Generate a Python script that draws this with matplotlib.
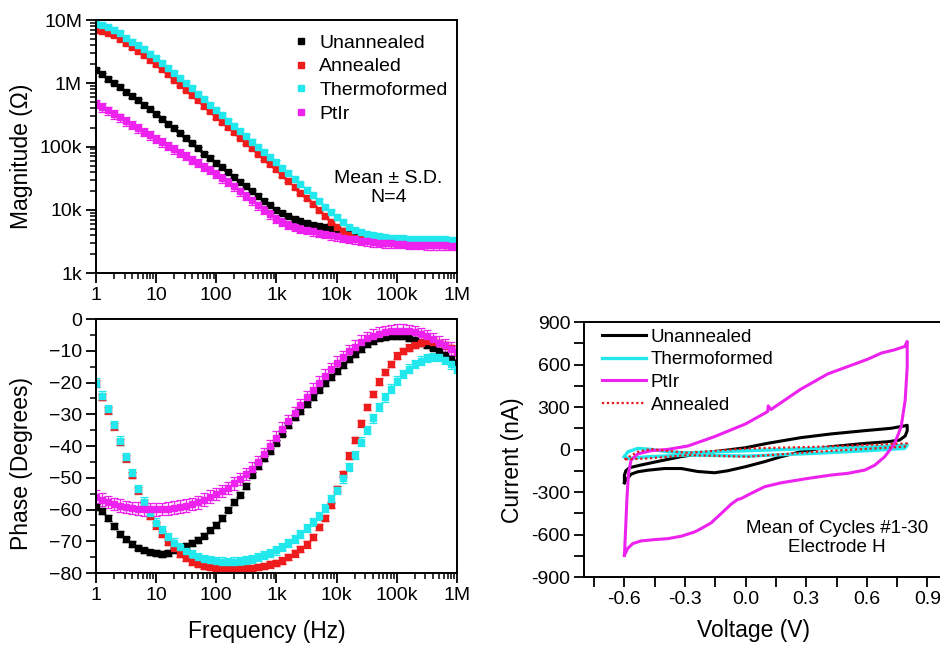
import matplotlib

matplotlib.use("Agg")

import matplotlib.pyplot as plt
from matplotlib.lines import Line2D
from matplotlib.ticker import FixedLocator, LogLocator, MultipleLocator, NullFormatter


# impedance spectra, 10 points per decade
freq_hz = [1, 1.26, 1.58, 2.0, 2.51, 3.16, 3.98, 5.01, 6.31, 7.94,
           10, 12.6, 15.8, 20.0, 25.1, 31.6, 39.8, 50.1, 63.1, 79.4,
           100, 126, 158, 200, 251, 316, 398, 501, 631, 794,
           1000, 1260, 1580, 2000, 2510, 3160, 3980, 5010, 6310, 7940,
           10000, 12600, 15800, 20000, 25100, 31600, 39800, 50100, 63100, 79400,
           100000, 126000, 158000, 200000, 251000, 316000, 398000, 501000, 631000, 794000,
           1000000]

# |Z| in kOhm
mag_unannealed = [1622, 1380, 1175, 1023, 871, 741, 631, 537, 457, 389,
                  331, 275, 229, 195, 162, 135, 112, 93.3, 77.6, 66.1,
                  55.0, 46.8, 38.9, 33.1, 27.5, 23.4, 19.5, 16.6, 13.8, 11.7,
                  10.0, 8.91, 7.94, 7.24, 6.61, 6.17, 5.75, 5.50, 5.25, 5.01,
                  4.79, 4.57, 4.27, 4.07, 3.89, 3.72, 3.63, 3.47, 3.39, 3.31,
                  3.24, 3.24, 3.16, 3.16, 3.16, 3.09, 3.09, 3.09, 3.09, 3.02, 3.02]
mag_annealed = [7079, 6761, 6310, 5754, 5012, 4266, 3715, 3236, 2754, 2344,
                1995, 1660, 1380, 1148, 955, 794, 646, 537, 437, 363,
                295, 245, 204, 170, 138, 115, 95.5, 77.6, 64.6, 52.5,
                43.7, 35.5, 28.8, 22.9, 18.6, 15.1, 12.3, 9.77, 7.94, 6.46,
                5.37, 4.57, 3.98, 3.63, 3.47, 3.31, 3.24, 3.16, 3.09, 3.02,
                2.95, 2.95, 2.95, 2.88, 2.88, 2.88, 2.88, 2.88, 2.82, 2.82, 2.82]
mag_thermo = [8710, 8318, 7762, 7079, 6166, 5248, 4571, 3981, 3467, 2951,
              2512, 2089, 1738, 1445, 1202, 1000, 832, 676, 562, 457,
              380, 316, 257, 214, 174, 145, 120, 97.7, 81.3, 67.6,
              56.2, 45.7, 38.0, 30.9, 25.7, 20.9, 17.0, 13.8, 11.2, 9.12,
              7.59, 6.31, 5.37, 4.79, 4.47, 4.17, 3.98, 3.80, 3.72, 3.63,
              3.55, 3.55, 3.47, 3.47, 3.47, 3.39, 3.39, 3.39, 3.39, 3.31, 3.31]
mag_ptir = [479, 417, 372, 324, 288, 251, 219, 195, 170, 151,
            132, 117, 102, 91.2, 79.4, 70.8, 61.7, 55.0, 47.9, 42.7,
            37.2, 31.6, 27.5, 23.4, 19.5, 16.6, 14.1, 11.7, 10.0, 8.51,
            7.24, 6.46, 5.75, 5.37, 5.01, 4.79, 4.57, 4.37, 4.17, 3.98,
            3.80, 3.63, 3.47, 3.39, 3.24, 3.16, 3.09, 3.02, 2.95, 2.95,
            2.88, 2.88, 2.82, 2.82, 2.82, 2.75, 2.75, 2.75, 2.75, 2.69, 2.69]

# phase in degrees
ph_unannealed = [-59.3, -60.5, -62.6, -65.1, -67.6, -69.4, -70.8, -72.0, -72.9, -73.5,
                 -73.8, -73.9, -73.6, -72.9, -72.1, -71.4, -70.5, -69.5, -68.2, -66.6,
                 -64.8, -62.6, -60.0, -57.7, -55.3, -52.5, -49.0, -46.3, -43.9, -41.6,
                 -38.9, -36.1, -33.5, -31.0, -28.9, -26.9, -24.6, -22.2, -20.1, -18.2,
                 -16.4, -14.5, -12.6, -11.0, -9.4, -8.0, -6.9, -6.1, -5.7, -5.5,
                 -5.4, -5.5, -6.0, -6.7, -7.4, -8.1, -9.0, -10.0, -11.2, -12.5, -13.8]
ph_annealed = [-20.3, -24.5, -28.8, -33.8, -38.8, -43.9, -49.1, -54.0, -58.1, -61.9,
               -65.0, -67.8, -70.2, -72.2, -73.9, -75.3, -76.4, -77.2, -77.8, -78.2,
               -78.5, -78.7, -78.8, -78.8, -78.7, -78.6, -78.4, -78.1, -77.7, -77.3,
               -76.8, -76.1, -75.0, -73.8, -72.5, -71.0, -68.6, -65.6, -62.6, -58.6,
               -53.6, -48.9, -43.0, -38.1, -32.9, -27.7, -23.6, -19.7, -16.6, -14.2,
               -11.5, -10.1, -9.0, -8.1, -7.4, -7.0, -7.1, -7.6, -8.3, -9.2, -10.3]
ph_thermo = [-20.0, -24.1, -28.4, -33.4, -38.3, -43.4, -48.6, -53.5, -57.5, -61.2,
             -64.1, -66.6, -68.7, -70.4, -71.9, -73.1, -74.1, -74.9, -75.5, -75.9,
             -76.2, -76.4, -76.5, -76.4, -76.2, -75.9, -75.5, -74.9, -74.3, -73.6,
             -72.9, -71.8, -70.6, -69.2, -67.6, -65.9, -64.0, -62.0, -59.6, -56.8,
             -53.8, -50.2, -46.6, -42.8, -38.6, -35.0, -31.3, -27.8, -24.7, -21.9,
             -19.4, -17.3, -15.6, -14.2, -13.1, -12.3, -11.9, -12.0, -12.9, -14.3, -15.8]
ph_ptir = [-55.9, -56.9, -57.6, -58.3, -58.8, -59.2, -59.5, -59.7, -59.9, -59.9,
           -59.9, -59.8, -59.7, -59.4, -59.1, -58.8, -58.3, -57.7, -56.9, -56.0,
           -55.1, -54.2, -53.2, -51.8, -50.4, -48.8, -47.1, -45.1, -42.6, -40.0,
           -37.4, -34.5, -32.1, -29.7, -27.1, -24.7, -22.3, -20.1, -17.9, -15.8,
           -13.8, -12.0, -10.2, -8.7, -7.1, -6.0, -5.2, -4.6, -4.2, -3.9,
           -3.7, -3.7, -3.9, -4.2, -4.8, -5.5, -6.4, -7.4, -8.3, -9.3, -10.5]

# approximate S.D. (fraction of |Z|, degrees of phase)
mag_sd_frac = [0.06, 0.06, 0.08, 0.15]
ph_sd_deg = [0.9, 1.0, 1.3, 2.0]

# cyclic voltammograms (V, nA)
cv_unann_v = [-0.600, -0.600, -0.593, -0.575, -0.517, -0.418, -0.319, -0.154, 0.000, 0.109,
              0.274, 0.422, 0.588, 0.720, 0.783, 0.800, 0.800, 0.790, 0.762, 0.704,
              0.588, 0.422, 0.274, 0.175, 0.093, 0.000, -0.089, -0.154, -0.237, -0.319,
              -0.401, -0.484, -0.534, -0.567, -0.587, -0.600]
cv_unann_i = [-234, -180, -150, -128, -109, -79, -50, -15, 13, 44,
              84, 110, 133, 150, 166, 171, 133, 96, 67, 55,
              43, 20, -15, -51, -86, -121, -150, -164, -155, -134,
              -134, -146, -157, -174, -205, -234]
cv_thermo_v = [-0.600, -0.583, -0.534, -0.468, -0.385, -0.286, 0.000, 0.342, 0.589, 0.800,
               0.787, 0.589, 0.342, 0.011, -0.286, -0.484, -0.583, -0.600]
cv_thermo_i = [-51, -16, 8, 1, -16, -23, -9, 8, 15, 31,
               8, -9, -27, -46, -39, -51, -63, -51]
cv_ptir_v = [-0.600, -0.595, -0.588, -0.580, -0.567, -0.534, -0.468, -0.385, -0.286, -0.154,
             0.000, 0.109, 0.112, 0.125, 0.273, 0.407, 0.506, 0.605, 0.672, 0.738,
             0.788, 0.800, 0.800, 0.790, 0.770, 0.738, 0.689, 0.640, 0.590, 0.506,
             0.424, 0.308, 0.175, 0.093, 0.010, -0.022, -0.040, -0.072, -0.121, -0.171,
             -0.220, -0.253, -0.319, -0.385, -0.451, -0.517, -0.559, -0.584, -0.600]
cv_ptir_i = [-747, -593, -357, -168, -74, -31, -8, 1, 25, 91,
             181, 268, 308, 282, 426, 534, 586, 638, 681, 704,
             728, 763, 586, 350, 161, 44, -50, -110, -145, -168,
             -180, -204, -235, -263, -322, -346, -353, -386, -452, -518,
             -558, -582, -612, -629, -636, -645, -664, -699, -747]
cv_ann_v = [-0.600, -0.534, -0.468, -0.402, -0.286, 0.010, 0.340, 0.800, 0.787, 0.340,
            0.010, -0.286, -0.484, -0.600]
cv_ann_i = [-70, -16, 4, -8, -23, 8, 19, 43, 20, -16,
            -51, -39, -63, -70]

eis_names = ["Unannealed", "Annealed", "Thermoformed", "PtIr"]
eis_colors = ["#000000", "#ee1c1c", "#22e8ee", "#ee22ee"]

plt.rcParams["font.family"] = ["Liberation Sans", "DejaVu Sans"]

freq_ticks = [1, 10, 100, 1000, 10000, 100000, 1000000]
freq_labels = ["1", "10", "100", "1k", "10k", "100k", "1M"]
LABEL_SIZE = 16.5


def _style_axis(ax):
    for side in ["left", "bottom", "top", "right"]:
        ax.spines[side].set_linewidth(1.4)
    ax.tick_params(which="major", direction="out", length=7, width=1.3, labelsize=14, pad=3,
                   top=False, right=False)
    ax.tick_params(which="minor", direction="out", length=4, width=1.1, top=False, right=False)


def _freq_axis(ax):
    ax.set_xscale("log")
    ax.set_xlim(1, 1e6)
    ax.xaxis.set_major_locator(FixedLocator(freq_ticks))
    ax.set_xticklabels(freq_labels)
    ax.xaxis.set_minor_locator(LogLocator(base=10, subs=range(2, 10), numticks=20))
    ax.xaxis.set_minor_formatter(NullFormatter())


fig = plt.figure(figsize=(9.4, 6.45), dpi=100)

# magnitude
ax1 = fig.add_axes([0.1021, 0.5767, 0.384, 0.3922])
mags = [mag_unannealed, mag_annealed, mag_thermo, mag_ptir]
for values, frac, color in zip(mags, mag_sd_frac, eis_colors):
    err = [v * frac for v in values]
    ax1.errorbar(freq_hz, values, yerr=err, fmt="s", ms=4.4, color=color, ecolor=color,
                 elinewidth=0.9, capsize=2.6, capthick=0.9)
_freq_axis(ax1)
ax1.set_yscale("log")
ax1.set_ylim(1, 10000)
ax1.yaxis.set_major_locator(FixedLocator([1, 10, 100, 1000, 10000]))
ax1.set_yticklabels(["1k", "10k", "100k", "1M", "10M"])
ax1.yaxis.set_minor_locator(LogLocator(base=10, subs=range(2, 10), numticks=20))
ax1.yaxis.set_minor_formatter(NullFormatter())
_style_axis(ax1)
ax1.set_ylabel("Magnitude (\u03a9)", fontsize=LABEL_SIZE)
ax1.yaxis.set_label_coords(-0.175, 0.46)
handles = [Line2D([], [], marker="s", ms=4.5, ls="none", color=c) for c in eis_colors]
ax1.legend(handles, eis_names, loc="upper left", bbox_to_anchor=(0.546, 0.945), frameon=False,
           fontsize=14, handlelength=0.8, handletextpad=0.55, labelspacing=0.32, borderpad=0,
           borderaxespad=0)
ax1.text(0.81, 0.336, "Mean \u00b1 S.D.\nN=4", transform=ax1.transAxes, ha="center", va="center",
         fontsize=14, linespacing=1.2)

# phase
ax2 = fig.add_axes([0.1021, 0.1116, 0.384, 0.3938])
phases = [ph_unannealed, ph_annealed, ph_thermo, ph_ptir]
for values, sd, color in zip(phases, ph_sd_deg, eis_colors):
    ax2.errorbar(freq_hz, values, yerr=sd, fmt="s", ms=4.4, color=color, ecolor=color,
                 elinewidth=0.9, capsize=2.6, capthick=0.9)
_freq_axis(ax2)
ax2.set_ylim(-80, 0)
ax2.yaxis.set_major_locator(MultipleLocator(10))
ax2.yaxis.set_minor_locator(MultipleLocator(5))
_style_axis(ax2)
ax2.set_ylabel("Phase (Degrees)", fontsize=LABEL_SIZE)
ax2.yaxis.set_label_coords(-0.175, 0.43)
ax2.set_xlabel("Frequency (Hz)", fontsize=LABEL_SIZE)
ax2.xaxis.set_label_coords(0.474, -0.185)

# cyclic voltammetry
ax3 = fig.add_axes([0.6213, 0.1054, 0.3868, 0.3953])
ax3.plot(cv_unann_v, cv_unann_i, color="#000000", lw=2.2, label="Unannealed")
ax3.plot(cv_thermo_v, cv_thermo_i, color="#22e8ee", lw=2.4, label="Thermoformed")
ax3.plot(cv_ptir_v, cv_ptir_i, color="#ee22ee", lw=2.2, label="PtIr")
ax3.plot(cv_ann_v, cv_ann_i, color="#e81818", lw=1.6, ls=(0, (1, 1.2)), label="Annealed")
ax3.set_xlim(-0.8, 1.0)
ax3.set_ylim(-900, 900)
ax3.xaxis.set_major_locator(FixedLocator([-0.6, -0.3, 0.0, 0.3, 0.6, 0.9]))
ax3.set_xticklabels(["-0.6", "-0.3", "0.0", "0.3", "0.6", "0.9"])
ax3.xaxis.set_minor_locator(FixedLocator([-0.75, -0.45, -0.15, 0.15, 0.45, 0.75]))
ax3.yaxis.set_major_locator(MultipleLocator(300))
ax3.yaxis.set_minor_locator(MultipleLocator(150))
ax3.yaxis.set_major_formatter(matplotlib.ticker.FuncFormatter(lambda v, p: f"{v:.0f}"))
_style_axis(ax3)
ax3.tick_params(which="minor", length=7, width=1.3)
ax3.set_ylabel("Current (nA)", fontsize=LABEL_SIZE)
ax3.yaxis.set_label_coords(-0.165, 0.46)
ax3.set_xlabel("Voltage (V)", fontsize=LABEL_SIZE)
ax3.xaxis.set_label_coords(0.465, -0.165)
ax3.legend(loc="upper left", bbox_to_anchor=(0.05, 0.975), frameon=False, fontsize=13.5,
           handlelength=2.35, handletextpad=0.25, labelspacing=0.3, borderpad=0, borderaxespad=0)
ax3.text(0.696, 0.153, "Mean of Cycles #1-30\nElectrode H", transform=ax3.transAxes, ha="center",
         va="center", fontsize=13.5, linespacing=1.1)

fig.savefig("out.png", dpi=100)
